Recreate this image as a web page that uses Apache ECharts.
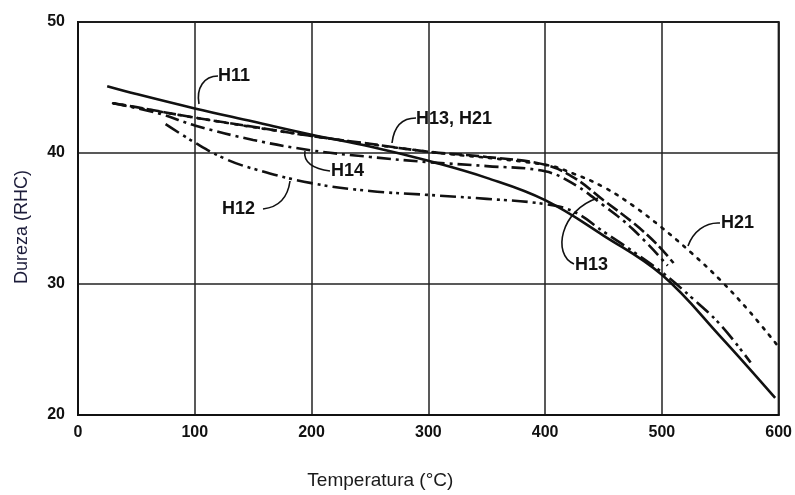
<!DOCTYPE html>
<html>
<head>
<meta charset="utf-8">
<script src="https://cdn.jsdelivr.net/npm/echarts@6/dist/echarts.min.js"></script>
<style>
html,body{margin:0;padding:0;background:#fff;}
#chart{width:795px;height:495px;}
</style>
</head>
<body>
<div id="chart"></div>
<script>
// Temperature (°C) vs hardness (HRC) points
const h11 = [[25,45.1],[50,44.5],[100,43.4],[150,42.4],[200,41.4],[250,40.5],[300,39.4],[350,38.1],[400,36.4],[450,33.7],[500,30.7],[550,26.0],[597,21.3]];
const h13 = [[30,43.8],[50,43.5],[100,42.7],[150,42.0],[200,41.3],[250,40.7],[300,40.1],[350,39.7],[400,39.1],[425,38.1],[450,36.4],[475,34.7],[495,33.1],[510,31.6]];
const h14 = [[30,43.8],[70,43.0],[100,42.1],[150,41.0],[200,40.2],[250,39.7],[300,39.3],[350,39.0],[400,38.6],[425,37.6],[450,36.0],[475,34.2],[505,31.4]];
const h12 = [[75,42.2],[100,40.8],[125,39.6],[150,38.8],[200,37.7],[250,37.1],[300,36.8],[350,36.5],[400,36.1],[425,35.5],[450,34.0],[475,32.5],[500,30.9],[525,29.0],[550,26.9],[576,24.0]];
const h21 = [[30,43.8],[100,42.7],[200,41.3],[300,40.1],[400,39.1],[425,38.4],[450,37.4],[475,36.0],[500,34.3],[525,32.4],[550,30.3],[575,27.9],[600,25.2]];
const xTicks = [0,100,200,300,400,500,600];
const yTicks = [20,30,40,50];

const chart = echarts.init(document.getElementById('chart'));
const lineBase = {type:'line', showSymbol:false, smooth:0.4, silent:true};
const sans = '"Liberation Sans",Arial,sans-serif';

function lbl(text, x, y){
  return {type:'text', left:x, top:y, z:10, style:{text:text, font:'bold 18px '+sans, fill:'#111'}};
}
function leader(x1,y1,cx1,cy1,cx2,cy2,x2,y2){
  return {type:'bezierCurve', z:10, shape:{x1:x1,y1:y1,cpx1:cx1,cpy1:cy1,cpx2:cx2,cpy2:cy2,x2:x2,y2:y2},
          style:{stroke:'#111', lineWidth:1.6, fill:null}};
}

chart.setOption({
  animation:false,
  backgroundColor:'#fff',
  grid:{left:78, right:15, top:22, bottom:80, show:true, borderColor:'#111', borderWidth:2},
  xAxis:{
    type:'value', min:xTicks[0], max:xTicks[xTicks.length-1], interval:100,
    axisLine:{show:true, lineStyle:{color:'#111', width:2}},
    axisTick:{show:false},
    splitLine:{show:true, lineStyle:{color:'#222', width:1.5}},
    axisLabel:{color:'#111', fontFamily:sans, fontWeight:'bold', fontSize:16, margin:10},
    name:'Temperatura (°C)', nameLocation:'middle', nameGap:56,
    nameTextStyle:{color:'#1a1a1a', fontFamily:sans, fontSize:19, padding:[0,96,0,0]}
  },
  yAxis:{
    type:'value', min:yTicks[0], max:yTicks[yTicks.length-1], interval:10,
    axisLine:{show:true, lineStyle:{color:'#111', width:2}},
    axisTick:{show:false},
    splitLine:{show:true, lineStyle:{color:'#222', width:1.5}},
    axisLabel:{color:'#111', fontFamily:sans, fontWeight:'bold', fontSize:16, margin:13}
  },
  series:[
    Object.assign({}, lineBase, {name:'H21', data:h21, z:2, lineStyle:{color:'#111', width:2.6, type:[2.5,7], cap:'round'}}),
    Object.assign({}, lineBase, {name:'H12', data:h12, z:3, lineStyle:{color:'#111', width:2.6, type:[16,5,3,4,3,5]}}),
    Object.assign({}, lineBase, {name:'H14', data:h14, z:3, lineStyle:{color:'#111', width:2.6, type:[14,5,3,5]}}),
    Object.assign({}, lineBase, {name:'H13', data:h13, z:4, lineStyle:{color:'#111', width:2.6, type:[13,4]}}),
    Object.assign({}, lineBase, {name:'H11', data:h11, z:5, lineStyle:{color:'#111', width:2.6, type:'solid'}})
  ],
  graphic:[
    {type:'text', x:22, y:227, rotation:Math.PI/2, z:10,
     style:{text:'Dureza (RHC)', font:'18px '+sans, fill:'#1c1c3a', align:'center', verticalAlign:'middle'}},
    lbl('H11', 218, 67),
    leader(199,104,196,88,204,76,218,76),
    lbl('H13, H21', 416, 110),
    leader(392,143,394,126,402,118,416,118),
    lbl('H14', 331, 162),
    leader(305,151,303,162,313,169,330,171),
    lbl('H12', 222, 200),
    leader(290,181,288,196,280,207,263,209),
    lbl('H13', 575, 256),
    leader(598,198,560,210,552,255,574,264),
    lbl('H21', 721, 214),
    leader(688,246,693,232,705,222,720,223)
  ]
});
</script>
</body>
</html>
